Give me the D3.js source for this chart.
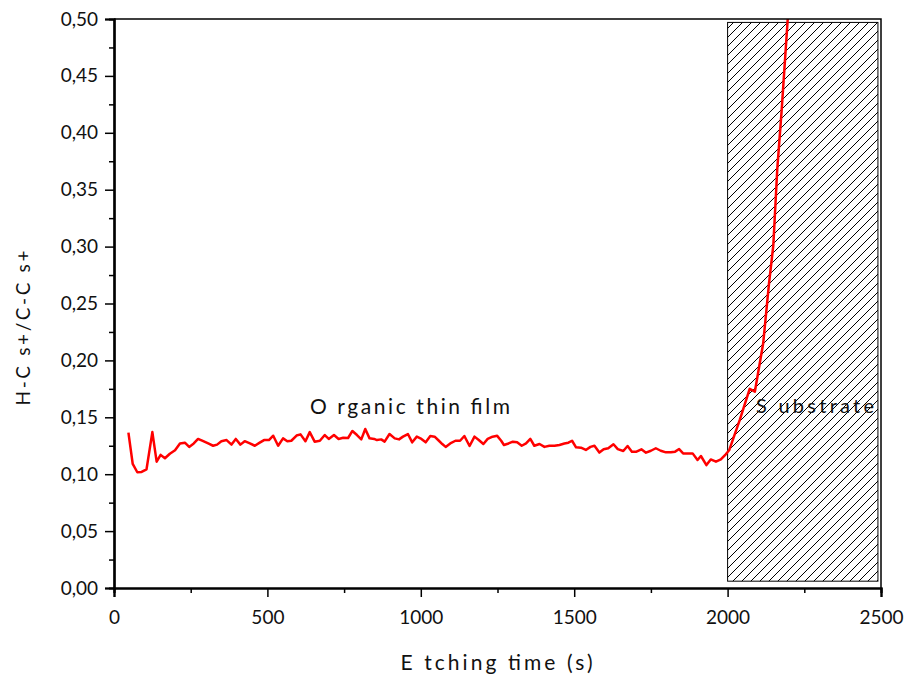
<!DOCTYPE html>
<html>
<head>
<meta charset="utf-8">
<script src="https://cdn.jsdelivr.net/npm/d3@7"></script>
<style>
  body { margin: 0; background: #fff; }
  text { font-family: Lato, "Open Sans", sans-serif; fill: #111; }
</style>
</head>
<body>
<svg id="chart" width="909" height="681"></svg>
<script>
// etching time (s) and H-Cs+/C-Cs+ ratio
const times = [47, 61, 76, 90, 106, 125, 139, 152, 166, 182, 199, 215, 231, 245, 260, 274, 291, 307, 323, 336,
  350, 367, 383, 397, 412, 426, 443, 459, 475, 489, 505, 519, 535, 551, 565, 578, 595, 608, 624, 638,
  654, 671, 687, 700, 717, 732, 747, 763, 777, 792, 806, 819, 833, 848, 857, 871, 882, 898, 915, 929,
  942, 958, 972, 987, 1002, 1016, 1031, 1045, 1059, 1070, 1081, 1096, 1113, 1128, 1142, 1159, 1175, 1189, 1204, 1218,
  1234, 1249, 1262, 1271, 1286, 1300, 1314, 1329, 1343, 1357, 1370, 1387, 1403, 1419, 1436, 1452, 1468, 1481, 1493, 1506,
  1522, 1538, 1553, 1566, 1582, 1596, 1611, 1628, 1642, 1660, 1674, 1688, 1703, 1719, 1734, 1750, 1766, 1782, 1799, 1815,
  1829, 1842, 1855, 1869, 1886, 1902, 1913, 1931, 1945, 1962, 1978, 1994, 2005, 2040, 2072, 2089, 2116, 2135, 2149, 2162,
  2176, 2196];
const ratio = [0.1365, 0.109, 0.1017, 0.102, 0.1043, 0.137, 0.111, 0.117, 0.114, 0.118, 0.121, 0.127, 0.1277, 0.124, 0.127, 0.131, 0.129, 0.127, 0.125, 0.126,
  0.129, 0.130, 0.126, 0.131, 0.126, 0.129, 0.127, 0.125, 0.1277, 0.130, 0.130, 0.1338, 0.125, 0.1315, 0.129, 0.1294, 0.134, 0.135, 0.129, 0.137,
  0.1286, 0.1294, 0.1344, 0.131, 0.1344, 0.131, 0.132, 0.1318, 0.138, 0.1344, 0.1306, 0.1397, 0.1315, 0.131, 0.130, 0.1306, 0.1286, 0.1353, 0.1315, 0.1306,
  0.133, 0.1353, 0.128, 0.133, 0.131, 0.128, 0.1336, 0.133, 0.1294, 0.1265, 0.124, 0.127, 0.1294, 0.1294, 0.1336, 0.1248, 0.133, 0.130, 0.1265, 0.131,
  0.133, 0.1337, 0.1294, 0.1257, 0.127, 0.1286, 0.128, 0.125, 0.127, 0.131, 0.125, 0.1265, 0.124, 0.125, 0.125, 0.1257, 0.127, 0.1277, 0.1294, 0.1236,
  0.1233, 0.1213, 0.124, 0.125, 0.119, 0.122, 0.1228, 0.1263, 0.122, 0.1204, 0.1248, 0.1198, 0.1198, 0.1219, 0.1189, 0.1206, 0.1228, 0.1206, 0.1192, 0.1192,
  0.1198, 0.1221, 0.1183, 0.1183, 0.1183, 0.1125, 0.116, 0.108, 0.113, 0.111, 0.113, 0.1175, 0.121, 0.148, 0.175, 0.1726, 0.215, 0.2676, 0.301, 0.3686,
  0.419, 0.50];

const xTicks = [0, 500, 1000, 1500, 2000, 2500];
const yTicks = [0, 0.05, 0.10, 0.15, 0.20, 0.25, 0.30, 0.35, 0.40, 0.45, 0.50];
const substrateSpan = [2000, 2490];   // hatched region (s)
const substrateRange = [0.006, 0.497];

const svg = d3.select("#chart");
const mLeft = 114, mRight = 881, mTop = 19, mBottom = 588;

const x = d3.scaleLinear().domain([0, 2500]).range([mLeft, mRight]);
const y = d3.scaleLinear().domain([0, 0.5]).range([mBottom, mTop]);

// hatch pattern for the substrate
const defs = svg.append("defs");
const pat = defs.append("pattern")
  .attr("id", "hatch")
  .attr("patternUnits", "userSpaceOnUse")
  .attr("width", 9).attr("height", 9);
pat.append("path")
  .attr("d", "M-1,1 l2,-2 M0,9 l9,-9 M8,10 l2,-2")
  .attr("stroke", "#000").attr("stroke-width", 1);

defs.append("clipPath").attr("id", "clip")
  .append("rect").attr("x", mLeft).attr("y", mTop).attr("width", mRight - mLeft).attr("height", mBottom - mTop);

svg.append("rect")
  .attr("x", x(substrateSpan[0]))
  .attr("y", y(substrateRange[1]))
  .attr("width", x(substrateSpan[1]) - x(substrateSpan[0]))
  .attr("height", y(substrateRange[0]) - y(substrateRange[1]))
  .attr("fill", "url(#hatch)")
  .attr("stroke", "#000")
  .attr("stroke-width", 1);

// the ratio curve
const data = times.map((t, i) => [t, ratio[i]]);
svg.append("path")
  .datum(data)
  .attr("clip-path", "url(#clip)")
  .attr("fill", "none")
  .attr("stroke", "#ff0000")
  .attr("stroke-width", 2.5)
  .attr("stroke-linejoin", "round")
  .attr("d", d3.line().x(d => x(d[0])).y(d => y(d[1])));

// frame (top and right)
svg.append("path")
  .attr("d", `M${mLeft},${mTop}H${mRight}V${mBottom}`)
  .attr("fill", "none").attr("stroke", "#000").attr("stroke-width", 1.5);

const comma = d => d3.format(".2f")(d).replace(".", ",");

// x axis with minor ticks
const xMinor = svg.append("g").attr("transform", `translate(0,${mBottom})`)
  .call(d3.axisBottom(x).tickValues(d3.range(250, 2500, 500)).tickSize(5).tickFormat(""));
const xAxis = svg.append("g").attr("transform", `translate(0,${mBottom})`)
  .call(d3.axisBottom(x).tickValues(xTicks).tickSize(9).tickPadding(14).tickFormat(d3.format("d")));

const yMinor = svg.append("g").attr("transform", `translate(${mLeft},0)`)
  .call(d3.axisLeft(y).tickValues(d3.range(0.025, 0.5, 0.05)).tickSize(5).tickFormat(""));
const yAxis = svg.append("g").attr("transform", `translate(${mLeft},0)`)
  .call(d3.axisLeft(y).tickValues(yTicks).tickSize(9).tickPadding(7).tickFormat(comma));

[xMinor, xAxis, yMinor, yAxis].forEach(g => {
  g.select(".domain").attr("stroke-width", 2.2);
  g.selectAll(".tick line").attr("stroke-width", 1.5);
  g.selectAll("text").style("font-family", "Lato, sans-serif").style("font-size", "19px").attr("fill", "#111");
});

// titles
svg.append("text")
  .attr("x", (mLeft + mRight) / 2 - 1).attr("y", 670)
  .attr("text-anchor", "middle")
  .style("font-size", "21px")
  .attr("textLength", 192).attr("lengthAdjust", "spacing")
  .text("E tching time (s)");

svg.append("text")
  .attr("transform", `translate(30,${328}) rotate(-90)`)
  .attr("text-anchor", "middle")
  .style("font-size", "19px")
  .attr("textLength", 155).attr("lengthAdjust", "spacing")
  .text("H-C s+/C-C s+");

svg.append("text")
  .attr("x", 410).attr("y", 414)
  .attr("text-anchor", "middle")
  .style("font-size", "21px")
  .attr("textLength", 200).attr("lengthAdjust", "spacing")
  .text("O rganic thin film");

svg.append("text")
  .attr("x", 756).attr("y", 413)
  .style("font-size", "20px")
  .attr("textLength", 118).attr("lengthAdjust", "spacing")
  .text("S ubstrate");
</script>
</body>
</html>
